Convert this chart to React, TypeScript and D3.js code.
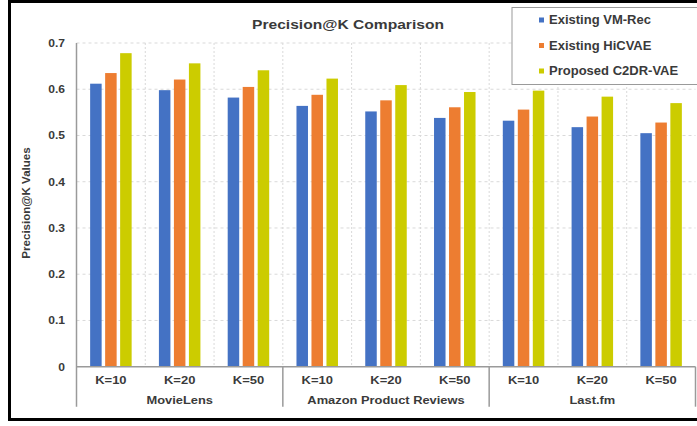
import React from "react";
import * as d3 from "d3";

const datasets = ["MovieLens", "Amazon Product Reviews", "Last.fm"];
const kLabels = ["K=10", "K=20", "K=50"];
const seriesNames = ["Existing VM-Rec", "Existing HiCVAE", "Proposed C2DR-VAE"];
const seriesColors = ["#4472c4", "#ed7d31", "#cccc00"];
const vmRec = [0.612, 0.598, 0.582, 0.564, 0.552, 0.538, 0.532, 0.518, 0.505];
const hiCvae = [0.635, 0.621, 0.605, 0.588, 0.576, 0.561, 0.556, 0.541, 0.528];
const c2drVae = [0.678, 0.656, 0.641, 0.623, 0.609, 0.594, 0.597, 0.584, 0.570];
const yTicks = [0, 0.1, 0.2, 0.3, 0.4, 0.5, 0.6, 0.7];

const W = 697;
const H = 426;
const left = 76.5;
const right = 695.5;
const top = 43;
const bottom = 366.7;
const font = "'Liberation Sans', Arial, sans-serif";
const textColor = "#3a3a3a";

// Bold label, widened along its baseline
function Label(props: {
  x: number;
  y: number;
  sx: number;
  size: number;
  anchor?: "start" | "middle" | "end";
  rotate?: number;
  children: React.ReactNode;
}) {
  const { x, y, sx, size, anchor = "start", rotate = 0, children } = props;
  return (
    <text
      transform={`translate(${x},${y}) rotate(${rotate}) scale(${sx},1)`}
      dy="0.35em"
      textAnchor={anchor}
      fontSize={size}
      fontWeight="bold"
      fill={textColor}
    >
      {children}
    </text>
  );
}

export default function App() {
  const categories = datasets.flatMap((d) => kLabels.map((k) => `${d}|${k}`));
  const values = [vmRec, hiCvae, c2drVae];

  const x = d3.scaleBand<string>().domain(categories).range([left, right]).padding(0);
  const bw = x.bandwidth();
  const span = 41.5;
  const inner = d3
    .scaleBand<string>()
    .domain(seriesNames)
    .range([(bw - span) / 2, (bw + span) / 2])
    .paddingInner(0.233)
    .paddingOuter(0);
  const y = d3.scaleLinear().domain([0, 0.7]).range([bottom, top]);

  const boundaries = d3.range(1, categories.length).map((i) => left + i * bw);
  const separators = [0, 3, 6, 9].map((i) => left + i * bw);

  return (
    <svg
      width={W}
      height={H}
      style={{ position: "absolute", left: 0, top: 0, background: "#fff" }}
      fontFamily={font}
    >
      {/* grid */}
      {yTicks.slice(1).map((t) => (
        <line key={`h${t}`} x1={left} x2={right} y1={y(t)} y2={y(t)} stroke="#d9d9d9" strokeWidth={1} strokeDasharray="3,3" />
      ))}
      {boundaries.map((b, i) => (
        <line key={`v${i}`} x1={b} x2={b} y1={top} y2={bottom} stroke="#d9d9d9" strokeWidth={1} strokeDasharray="2,2" />
      ))}

      {/* bars */}
      {categories.map((c, ci) =>
        seriesNames.map((s, si) => {
          const v = values[si][ci];
          return (
            <rect
              key={`${c}-${s}`}
              x={(x(c) as number) + (inner(s) as number)}
              y={y(v)}
              width={inner.bandwidth()}
              height={y(0) - y(v)}
              fill={seriesColors[si]}
            />
          );
        })
      )}

      {/* axes */}
      <line x1={left} x2={left} y1={top} y2={406.7} stroke="#9a9a9a" strokeWidth={1.5} />
      <line x1={left} x2={right} y1={bottom} y2={bottom} stroke="#9a9a9a" strokeWidth={1.5} />
      {separators.slice(1).map((s, i) => (
        <line key={`s${i}`} x1={s} x2={s} y1={bottom} y2={406.7} stroke="#9a9a9a" strokeWidth={1.5} />
      ))}

      {yTicks.map((t) => (
        <Label key={`yt${t}`} x={65} y={y(t)} sx={1.1} size={11} anchor="end">
          {t === 0 ? "0" : d3.format(".1f")(t)}
        </Label>
      ))}

      {categories.map((c) => (
        <Label key={`xl${c}`} x={(x(c) as number) + bw / 2} y={380.5} sx={1.18} size={11} anchor="middle">
          {c.split("|")[1]}
        </Label>
      ))}
      {datasets.map((d, i) => (
        <Label key={`g${d}`} x={(separators[i] + separators[i + 1]) / 2} y={400.5} sx={1.17} size={11} anchor="middle">
          {d}
        </Label>
      ))}

      <Label x={26} y={203} sx={1.05} size={11} anchor="middle" rotate={-90}>
        Precision@K Values
      </Label>

      <Label x={348} y={24} sx={1.2} size={13} anchor="middle">
        Precision@K Comparison
      </Label>

      {/* legend */}
      <rect x={512} y={7.5} width={190} height={77} fill="#fff" stroke="#9a9a9a" strokeWidth={1} />
      {seriesNames.map((s, i) => (
        <g key={`lg${s}`} transform={`translate(539,${20 + i * 25.5})`}>
          <rect x={0} y={-2.5} width={5} height={5} fill={seriesColors[i]} />
          <Label x={10} y={0} sx={1.085} size={12}>
            {s}
          </Label>
        </g>
      ))}

      {/* frame */}
      <path d={`M${W},1.5 H9.5 V419.5 H${W}`} fill="none" stroke="#000" strokeWidth={3} />
    </svg>
  );
}
